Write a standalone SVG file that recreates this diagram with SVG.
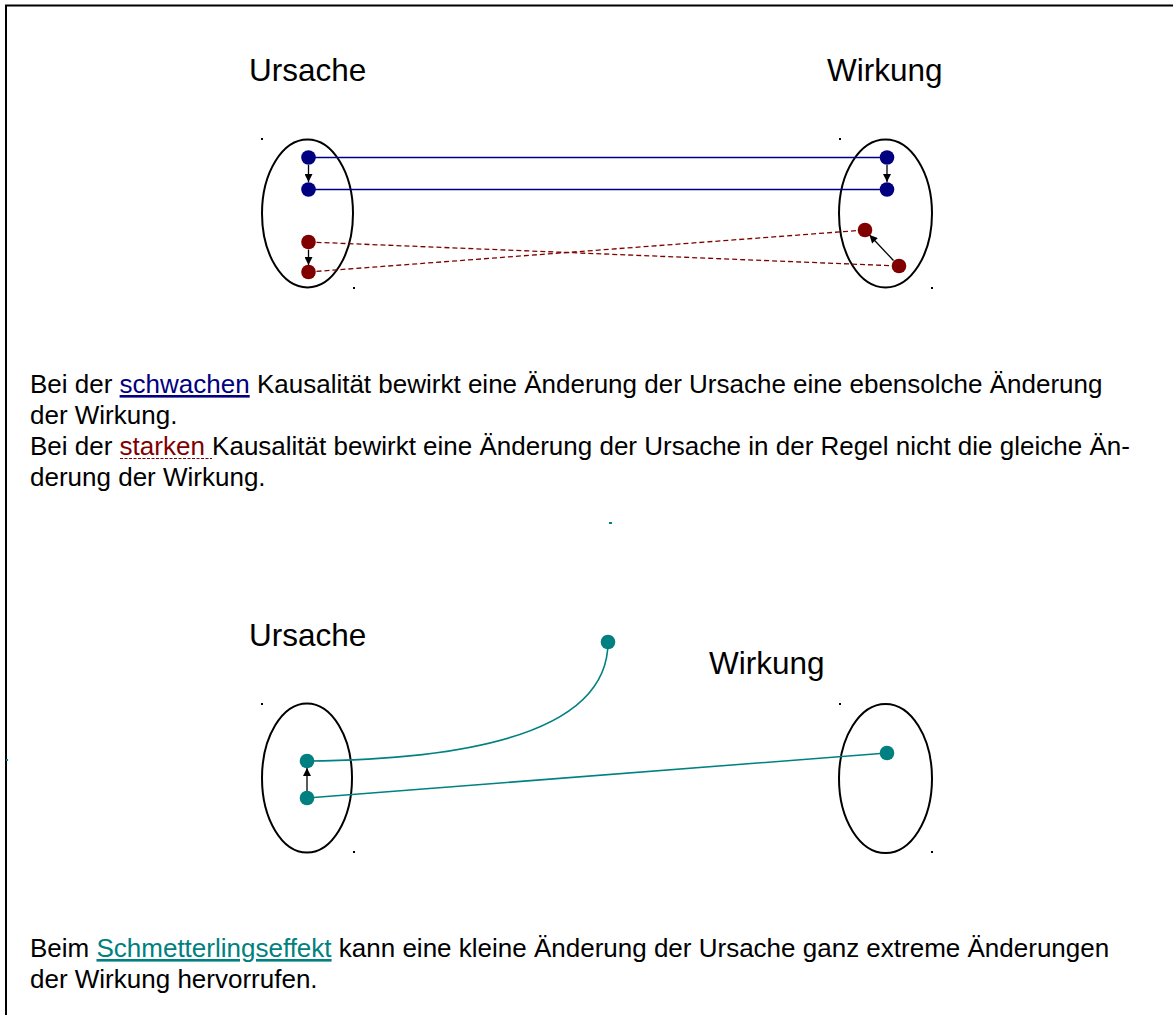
<svg xmlns="http://www.w3.org/2000/svg" width="1173" height="1015" viewBox="0 0 1173 1015">
  <style>
    text { font-family: "Liberation Sans", Arial, sans-serif; fill: #000; }
    .head { font-size: 31.5px; }
    .body { font-size: 26px; }
    .set { fill: none; stroke: #000; stroke-width: 2; }
    .tick { fill: #000; }
    .blue { fill: #000080; }
    .red { fill: #800000; }
    .teal { fill: #008080; }
    .link-blue { stroke: #000080; stroke-width: 1.5; fill: none; }
    .link-red { stroke: #800000; stroke-width: 1.3; stroke-dasharray: 5 3; fill: none; }
    .link-teal { stroke: #008080; stroke-width: 1.6; fill: none; }
    .step { stroke: #000; stroke-width: 1.3; fill: none; marker-end: url(#head); }
  </style>
  <defs>
    <marker id="head" viewBox="0 0 10 10" refX="10" refY="5" markerWidth="9" markerHeight="8" markerUnits="userSpaceOnUse" orient="auto">
      <path d="M0,0 L10,5 L0,10 Z" fill="#000"/>
    </marker>
  </defs>

  <rect width="1173" height="1015" fill="#fff"/>
  <!-- page frame -->
  <path d="M6,1015 V5.5 H1173" fill="none" stroke="#000" stroke-width="2"/>
  <rect x="6" y="759" width="2" height="2" fill="#008080"/>

  <!-- weak vs strong causality -->
  <g id="label-ursache-1"><text class="head" x="249" y="81">Ursache</text></g>
  <g id="label-wirkung-1"><text class="head" x="827" y="81">Wirkung</text></g>

  <g id="set-ursache-1">
    <ellipse class="set" cx="307.5" cy="213.5" rx="45.5" ry="74"/>
    <rect class="tick" x="261" y="138" width="2" height="2"/>
    <rect class="tick" x="353" y="287" width="2" height="2"/>
  </g>
  <g id="set-wirkung-1">
    <ellipse class="set" cx="885.5" cy="213.5" rx="46.5" ry="74"/>
    <rect class="tick" x="839" y="138" width="2" height="2"/>
    <rect class="tick" x="931" y="287" width="2" height="2"/>
  </g>

  <g id="connectors-1">
    <line class="link-blue" x1="308.5" y1="157.5" x2="887" y2="157.5"/>
    <line class="link-blue" x1="308.5" y1="189.5" x2="887" y2="189.5"/>
    <line class="link-red" x1="308.5" y1="242" x2="899" y2="266"/>
    <line class="link-red" x1="308.5" y1="272" x2="865" y2="230"/>
    <line class="step" x1="308.5" y1="165" x2="308.5" y2="182"/>
    <line class="step" x1="308.5" y1="249.5" x2="308.5" y2="265"/>
    <line class="step" x1="887" y1="165" x2="887" y2="182"/>
    <line class="step" x1="893.5" y1="260.5" x2="869.5" y2="235"/>
  </g>

  <g id="points-1">
    <circle class="blue" cx="308.5" cy="157.5" r="7.3"/>
    <circle class="blue" cx="308.5" cy="189.5" r="7.3"/>
    <circle class="red" cx="308.5" cy="242" r="7.3"/>
    <circle class="red" cx="308.5" cy="272" r="7.3"/>
    <circle class="blue" cx="887" cy="157.5" r="7.3"/>
    <circle class="blue" cx="887" cy="189.5" r="7.3"/>
    <circle class="red" cx="865" cy="230" r="7.3"/>
    <circle class="red" cx="899" cy="266" r="7.3"/>
  </g>

  <g id="text-1">
    <text class="body" x="30" y="393">Bei der <tspan fill="#000080" text-decoration="underline">schwachen</tspan> Kausalität bewirkt eine Änderung der Ursache eine ebensolche Änderung</text>
    <text class="body" x="30" y="424">der Wirkung.</text>
    <text class="body" x="30" y="455">Bei der <tspan fill="#800000">starken</tspan> Kausalität bewirkt eine Änderung der Ursache in der Regel nicht die gleiche Än-</text>
    <text class="body" x="30" y="486">derung der Wirkung.</text>
    <line x1="120" y1="458.5" x2="212" y2="458.5" stroke="#800000" stroke-width="1" stroke-dasharray="3 1.5"/>
  </g>

  <rect x="609" y="522" width="3" height="2" fill="#008080"/>

  <!-- butterfly effect -->
  <g id="label-ursache-2"><text class="head" x="249" y="646">Ursache</text></g>
  <g id="label-wirkung-2"><text class="head" x="709" y="674">Wirkung</text></g>

  <g id="set-ursache-2">
    <ellipse class="set" cx="307" cy="778" rx="45" ry="74.5"/>
    <rect class="tick" x="261" y="703" width="2" height="2"/>
    <rect class="tick" x="353" y="851" width="2" height="2"/>
  </g>
  <g id="set-wirkung-2">
    <ellipse class="set" cx="885.5" cy="778.5" rx="46.5" ry="74.5"/>
    <rect class="tick" x="839" y="703" width="2" height="2"/>
    <rect class="tick" x="931" y="851" width="2" height="2"/>
  </g>

  <g id="connectors-2">
    <path class="link-teal" d="M307,761 Q608,758 608,642"/>
    <line class="link-teal" x1="307" y1="798" x2="887" y2="753"/>
    <line class="step" x1="307" y1="791" x2="307" y2="768"/>
  </g>

  <g id="points-2">
    <circle class="teal" cx="307" cy="761" r="7.3"/>
    <circle class="teal" cx="307" cy="798" r="7.3"/>
    <circle class="teal" cx="608" cy="642" r="7.3"/>
    <circle class="teal" cx="887" cy="753" r="7.3"/>
  </g>

  <g id="text-2">
    <text class="body" x="30" y="957">Beim <tspan fill="#008080" text-decoration="underline">Schmetterlingseffekt</tspan> kann eine kleine Änderung der Ursache ganz extreme Änderungen</text>
    <text class="body" x="30" y="988">der Wirkung hervorrufen.</text>
  </g>
</svg>
